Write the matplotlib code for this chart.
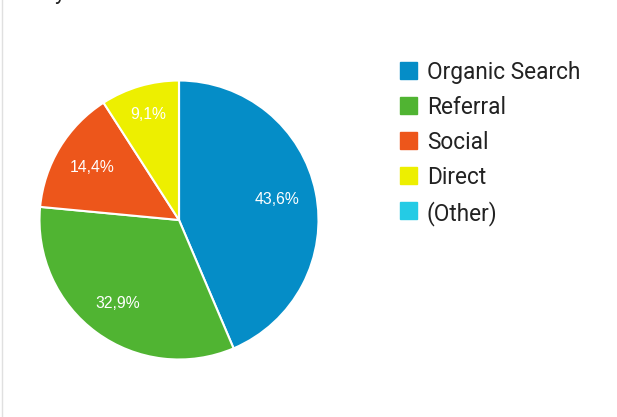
import numpy as np
import matplotlib.pyplot as plt
from matplotlib.patches import Rectangle

# traffic channels and their share of sessions
channels = ["Organic Search", "Referral", "Social", "Direct", "(Other)"]
shares = [43.6, 32.9, 14.4, 9.1, 0.0]
pct_labels = ["43,6%", "32,9%", "14,4%", "9,1%", ""]
colors = ["#058dc7", "#50b432", "#ed561b", "#edef00", "#24cbe5"]

W, H = 617, 417
fig = plt.figure(figsize=(W / 100, H / 100), dpi=100)

# pie axes, sized in pixels
cx, cy, r = 179, 220, 139.5
ax = fig.add_axes([(cx - r) / W, (H - cy - r) / H, 2 * r / W, 2 * r / H])
wedges, _ = ax.pie(shares, colors=colors, startangle=90, counterclock=False,
                   wedgeprops=dict(edgecolor="white", linewidth=1.5))
ax.set_xlim(-1, 1)
ax.set_ylim(-1, 1)
ax.set_aspect("equal")
ax.axis("off")

# percentage labels inside the slices
label_r = [0.72, 0.74, 0.73, 0.79, 0.7]
for w, lab, lr in zip(wedges, pct_labels, label_r):
    if not lab:
        continue
    mid = np.deg2rad((w.theta1 + w.theta2) / 2)
    ax.text(lr * np.cos(mid), lr * np.sin(mid), lab, color="white",
            fontsize=11.3, family="Liberation Sans", ha="center", va="center")

# legend drawn by hand
for i, (name, col) in enumerate(zip(channels, colors)):
    yc = 70.3 + 35 * i
    fig.patches.append(Rectangle((400 / W, (H - yc - 8.5) / H), 17 / W, 17 / H,
                                 transform=fig.transFigure, color=col))
    fig.text(427 / W, (H - yc) / H, name, fontsize=16.3, family="Roboto",
             color="#222222", ha="left", va="center_baseline")

# left border of the panel and cut-off title descender
fig.add_artist(plt.Line2D([1.5 / W, 1.5 / W], [0, 1], color="#e0e0e0", lw=1))
fig.text(55 / W, 1 + 1.5 / H, "y", fontsize=16, family="Roboto", color="#222222",
         ha="left", va="baseline")

fig.savefig("out.png", dpi=100, facecolor="white")
